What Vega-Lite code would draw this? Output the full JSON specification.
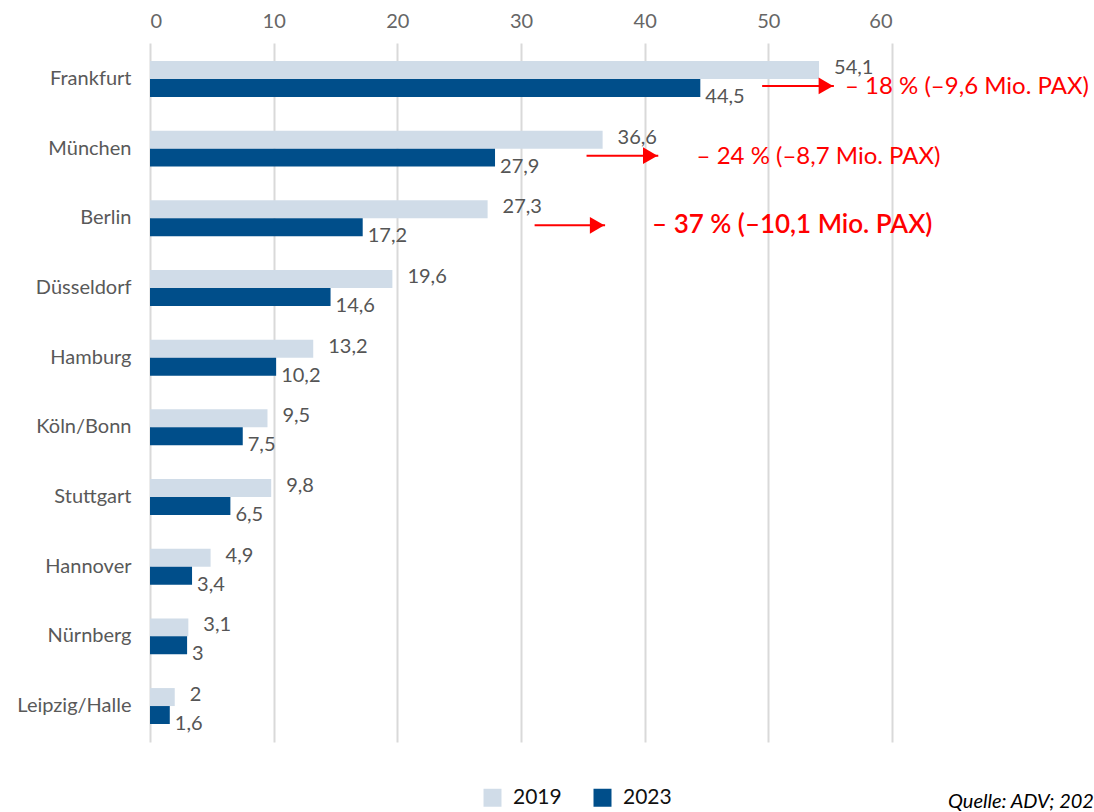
{
  "$schema": "https://vega.github.io/schema/vega-lite/v6.json",
  "autosize": {"type": "none"},
  "width": 742,
  "height": 699,
  "padding": {"left": 150, "top": 43, "right": 202, "bottom": 70},
  "config": {
    "locale": {"number": {"decimal": ",", "thousands": ".", "grouping": [3], "currency": ["", " €"]}},
    "view": {"stroke": null},
    "font": "Lato"
  },
  "title": {"text": "Quelle: ADV; 2024", "orient": "bottom", "anchor": "start", "frame": "group", "dx": 798, "offset": -16, "fontStyle": "italic", "fontWeight": "normal", "fontSize": 20, "color": "#000000", "font": "Lato"},
  "datasets": {
    "pax": [
      {"airport": "Frankfurt", "year": "2019", "pax": 54.1},
      {"airport": "Frankfurt", "year": "2023", "pax": 44.5},
      {"airport": "München", "year": "2019", "pax": 36.6},
      {"airport": "München", "year": "2023", "pax": 27.9},
      {"airport": "Berlin", "year": "2019", "pax": 27.3},
      {"airport": "Berlin", "year": "2023", "pax": 17.2},
      {"airport": "Düsseldorf", "year": "2019", "pax": 19.6},
      {"airport": "Düsseldorf", "year": "2023", "pax": 14.6},
      {"airport": "Hamburg", "year": "2019", "pax": 13.2},
      {"airport": "Hamburg", "year": "2023", "pax": 10.2},
      {"airport": "Köln/Bonn", "year": "2019", "pax": 9.5},
      {"airport": "Köln/Bonn", "year": "2023", "pax": 7.5},
      {"airport": "Stuttgart", "year": "2019", "pax": 9.8},
      {"airport": "Stuttgart", "year": "2023", "pax": 6.5},
      {"airport": "Hannover", "year": "2019", "pax": 4.9},
      {"airport": "Hannover", "year": "2023", "pax": 3.4},
      {"airport": "Nürnberg", "year": "2019", "pax": 3.1},
      {"airport": "Nürnberg", "year": "2023", "pax": 3},
      {"airport": "Leipzig/Halle", "year": "2019", "pax": 2},
      {"airport": "Leipzig/Halle", "year": "2023", "pax": 1.6}
    ],
    "notes": [
      {"airport": "Frankfurt", "arrowStart": 49.5, "arrowTip": 55.3, "textX": 56.2, "note": "– 18 % (–9,6 Mio. PAX)"},
      {"airport": "München", "arrowStart": 35.3, "arrowTip": 41.1, "textX": 44.2, "note": "– 24 % (–8,7 Mio. PAX)"},
      {"airport": "Berlin", "arrowStart": 31.1, "arrowTip": 36.8, "textX": 40.6, "note": "– 37 % (–10,1 Mio. PAX)"}
    ]
  },
  "encoding": {
    "y": {
      "field": "airport", "type": "nominal",
      "scale": {"domain": ["Frankfurt", "München", "Berlin", "Düsseldorf", "Hamburg", "Köln/Bonn", "Stuttgart", "Hannover", "Nürnberg", "Leipzig/Halle"], "paddingInner": 0.484, "paddingOuter": 0.258},
      "axis": {"title": null, "ticks": false, "domain": false, "labelPadding": 19, "labelFontSize": 20, "labelColor": "#595959", "labelFont": "Lato"}
    }
  },
  "layer": [
    {
      "data": {"name": "pax"},
      "mark": {"type": "bar"},
      "encoding": {
        "x": {
          "field": "pax", "type": "quantitative",
          "scale": {"domain": [0, 60], "nice": false},
          "axis": {"orient": "top", "title": null, "values": [0, 10, 20, 30, 40, 50, 60], "ticks": false, "domain": false, "grid": true, "gridColor": "#d9d9d9", "gridWidth": 2, "labelFontSize": 20, "labelColor": "#666666", "labelPadding": 12, "labelFont": "Lato"}
        },
        "yOffset": {"field": "year", "type": "nominal", "scale": {"domain": ["2019", "2023"]}},
        "color": {
          "field": "year", "type": "nominal",
          "scale": {"domain": ["2019", "2023"], "range": ["#d0dce8", "#004e8a"]},
          "legend": {"title": null, "orient": "none", "legendX": 332, "legendY": 744, "direction": "horizontal", "symbolType": "square", "symbolSize": 324, "symbolStrokeWidth": 0, "labelFontSize": 21, "labelColor": "#111111", "labelFont": "Lato", "columnPadding": 30, "labelOffset": 10}
        }
      }
    },
    {
      "data": {"name": "pax"},
      "transform": [{"filter": "datum.year == '2019'"}],
      "mark": {"type": "text", "align": "left", "baseline": "middle", "dx": 15, "dy": -2, "fontSize": 20, "color": "#555555"},
      "encoding": {
        "x": {"field": "pax", "type": "quantitative"},
        "yOffset": {"field": "year", "type": "nominal", "scale": {"domain": ["2019", "2023"]}},
        "text": {"field": "pax", "type": "quantitative", "format": ".3~g"}
      }
    },
    {
      "data": {"name": "pax"},
      "transform": [{"filter": "datum.year == '2023'"}],
      "mark": {"type": "text", "align": "left", "baseline": "middle", "dx": 5, "dy": 9, "fontSize": 20, "color": "#555555"},
      "encoding": {
        "x": {"field": "pax", "type": "quantitative"},
        "yOffset": {"field": "year", "type": "nominal", "scale": {"domain": ["2019", "2023"]}},
        "text": {"field": "pax", "type": "quantitative", "format": ".3~g"}
      }
    },
    {
      "data": {"name": "notes"},
      "mark": {"type": "rule", "color": "#ff0000", "strokeWidth": 2, "yOffset": 7},
      "encoding": {
        "x": {"field": "arrowStart", "type": "quantitative"},
        "x2": {"field": "arrowTip"}
      }
    },
    {
      "data": {"name": "notes"},
      "mark": {"type": "point", "shape": "triangle-right", "filled": true, "color": "#ff0000", "opacity": 1, "size": 280, "xOffset": -8, "yOffset": 7},
      "encoding": {
        "x": {"field": "arrowTip", "type": "quantitative"}
      }
    },
    {
      "data": {"name": "notes"},
      "transform": [{"filter": "datum.airport != 'Berlin'"}],
      "mark": {"type": "text", "align": "left", "baseline": "middle", "fontSize": 24, "color": "#ff0000", "yOffset": 8},
      "encoding": {
        "x": {"field": "textX", "type": "quantitative"},
        "text": {"field": "note", "type": "nominal"}
      }
    },
    {
      "data": {"name": "notes"},
      "transform": [{"filter": "datum.airport == 'Berlin'"}],
      "mark": {"type": "text", "align": "left", "baseline": "middle", "fontSize": 26, "fontWeight": 600, "color": "#ff0000", "yOffset": 7},
      "encoding": {
        "x": {"field": "textX", "type": "quantitative"},
        "text": {"field": "note", "type": "nominal"}
      }
    }
  ]
}
